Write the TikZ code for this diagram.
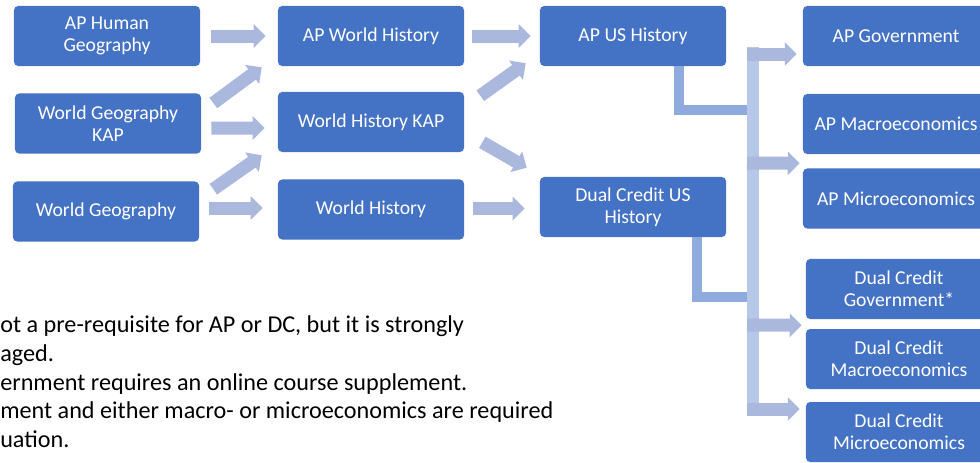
\documentclass[tikz,border=0pt]{standalone}
\usepackage{fontspec}
\setmainfont{Carlito}
\usetikzlibrary{arrows.meta}
\definecolor{boxblue}{RGB}{68,114,196}
\definecolor{arrowblue}{RGB}{170,184,222}
\definecolor{trunkblue}{RGB}{182,199,232}
\definecolor{elbowblue}{RGB}{143,170,220}

\begin{document}
\begin{tikzpicture}[x=0.025cm, y=-0.025cm,
  course/.style={fill=boxblue, text=white, rounded corners=3pt,
    minimum width=4.65cm, minimum height=1.5cm, align=center, inner sep=2pt,
    font=\fontsize{14}{15.5}\selectfont},
  blk/.style={draw=arrowblue, line width=9.25pt,
    -{Triangle[width=16.4pt,length=8.5pt]}},
  elbow/.style={draw=elbowblue, line width=7.2pt},
  trunk/.style={draw=trunkblue, line width=8.5pt},
  notes/.style={align=left, inner sep=0pt, font=\fontsize{17.2}{20.6}\selectfont}]
  \useasboundingbox (0,0) rectangle (980,462);
  \clip (0,0) rectangle (980,462);

  \node[course] (hg) at (107, 36) {AP Human\\Geography};
  \node[course] (wgk) at (108, 123.5) {World Geography\\KAP};
  \node[course] (wg) at (106, 211.5) {World Geography};

  \node[course] (awh) at (371, 36) {AP World History};
  \node[course] (whk) at (371, 122) {World History KAP};
  \node[course] (wh) at (371, 209.5) {World History};

  \node[course] (aus) at (633, 36) {AP US History};
  \node[course] (dcus) at (633, 207) {Dual Credit US\\History};

  \node[course] (agov) at (896, 36) {AP Government};
  \node[course] (amac) at (896, 124) {AP Macroeconomics};
  \node[course] (amic) at (896, 198.5) {AP Microeconomics};
  \node[course] (dcgov) at (899, 289) {Dual Credit\\Government*};
  \node[course] (dcmac) at (899, 359) {Dual Credit\\Macroeconomics};
  \node[course] (dcmic) at (899, 432) {Dual Credit\\Microeconomics};

  \draw[blk] ([shift={(11,0)}]hg.east) -- ([shift={(-12,0)}]awh.west);
  \draw[blk] ([shift={(12,-20.5)}]wgk.east) -- ([shift={(-16,1)}]awh.south west);
  \draw[blk] ([shift={(10,4.5)}]wgk.east) -- ([shift={(-13,6)}]whk.west);
  \draw[blk] ([shift={(14,8)}]wg.north east) -- ([shift={(-16,3)}]whk.south west);
  \draw[blk] ([shift={(10,-3.5)}]wg.east) -- ([shift={(-15,-1.5)}]wh.west);

  \draw[blk] ([shift={(8,0)}]awh.east) -- ([shift={(-9,0)}]aus.west);
  \draw[blk] ([shift={(16,4)}]whk.north east) -- ([shift={(-14,-3)}]aus.south west);
  \draw[blk] ([shift={(18,-10)}]whk.south east) -- ([shift={(-13,-9)}]dcus.north west);
  \draw[blk] ([shift={(9,-1)}]wh.east) -- ([shift={(-15,1.5)}]dcus.west);

  \coordinate (j1) at (753, 110);
  \coordinate (j2) at (753, 297);
  \coordinate (ttop) at (753, 47);
  \coordinate (tbot) at (753, 415);
  \coordinate (b1) at (747, 54);
  \coordinate (b2) at (747, 163);
  \coordinate (b3) at (747, 325);
  \coordinate (b4) at (747, 409);

  \draw[elbow] ([shift={(46,0)}]aus.south) |- (j1);
  \draw[elbow] ([shift={(64,0)}]dcus.south) |- (j2);
  \draw[trunk] (ttop) -- (tbot);

  \draw[blk] (b1) -- ([shift={(-6,18)}]agov.west);
  \draw[blk] (b2) -- ([shift={(-3,9)}]amac.south west);
  \draw[blk] (b3) -- ([shift={(-4,6)}]dcgov.south west);
  \draw[blk] (b4) -- ([shift={(-6,-23)}]dcmic.west);

  \node[notes, anchor=north west] (fn) at (0, 315)
    {ot a pre-requisite for AP or DC, but it is strongly\\
     aged.\\
     ernment requires an online course supplement.\\
     ment and either macro- or microeconomics are required\\
     uation.};
\end{tikzpicture}
\end{document}
